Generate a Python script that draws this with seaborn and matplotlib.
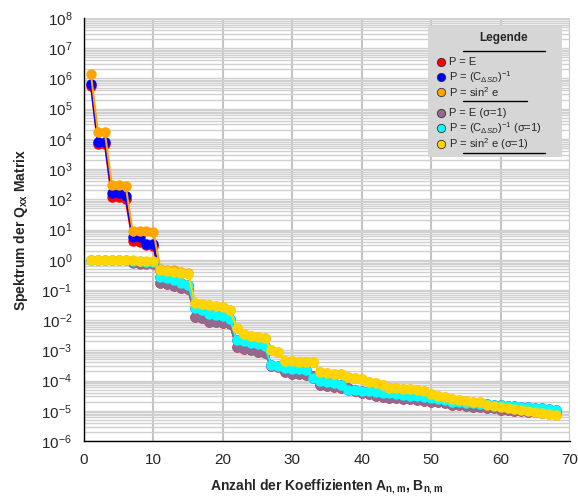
import numpy as np
import pandas as pd
import seaborn as sns
import matplotlib.pyplot as plt
from matplotlib.ticker import LogLocator, NullFormatter
from matplotlib.patches import Rectangle
from matplotlib.lines import Line2D

sns.set_style('white')
plt.rcParams['font.family'] = ['Liberation Sans', 'DejaVu Sans']
plt.rcParams['mathtext.fontset'] = 'custom'
plt.rcParams['mathtext.rm'] = 'Liberation Sans'
plt.rcParams['mathtext.it'] = 'Liberation Sans:italic'
plt.rcParams['mathtext.bf'] = 'Liberation Sans:bold'

x = np.arange(1, 69)

head_e = [5.8e5, 7e3, 6.8e3, 1.2e2, 1.15e2, 1.0e2, 4.2, 4.0, 3.0, 2.9,
          0.17, 0.16, 0.14, 0.12, 0.11]
head_c = [6.5e5, 8e3, 8e3, 1.6e2, 1.6e2, 1.25e2, 5.8, 5.5, 3.3, 3.2,
          0.26, 0.23, 0.2, 0.17, 0.15]
head_s = [1.4e6, 1.7e4, 1.7e4, 3e2, 2.9e2, 2.8e2, 9.0, 9.0, 8.8, 8.5,
          0.5, 0.47, 0.44, 0.4, 0.37]
head_e1 = [1.0, 1.0, 1.0, 1.0, 1.0, 1.0, 0.75, 0.72, 0.72, 0.7,
           0.17, 0.16, 0.14, 0.12, 0.11]
head_c1 = [1.0, 1.0, 1.0, 1.0, 1.0, 1.0, 0.9, 0.88, 0.86, 0.85,
           0.27, 0.24, 0.21, 0.17, 0.15]
head_s1 = [1.0, 1.0, 1.0, 1.0, 1.0, 1.0, 0.95, 0.93, 0.92, 0.9,
           0.45, 0.42, 0.4, 0.36, 0.34]

# Koeffizienten 16..68 (beide Varianten fallen zusammen)
tail_e = [0.013, 0.012, 0.009, 0.0085, 0.008, 0.0075,
          1.3e-3, 1.1e-3, 1.0e-3, 9e-4, 8e-4, 3e-4, 2.8e-4,
          1.9e-4, 1.7e-4, 1.6e-4, 1.5e-4, 1.4e-4,
          7e-5, 6.5e-5, 6e-5, 5.6e-5, 5.5e-5, 4.5e-5, 4e-5, 3.5e-5,
          3e-5, 2.8e-5, 2.7e-5, 2.6e-5, 2.5e-5, 2.4e-5, 2.2e-5, 2.1e-5,
          2e-5, 1.9e-5, 1.8e-5, 1.6e-5, 1.5e-5, 1.4e-5, 1.35e-5, 1.3e-5,
          1.25e-5, 1.2e-5, 1.1e-5, 1.05e-5, 1e-5, 9.5e-6, 9e-6, 8.8e-6,
          8.5e-6, 8.2e-6, 8e-6]
tail_c = [0.025, 0.022, 0.016, 0.015, 0.014, 0.011,
          2.2e-3, 2.0e-3, 1.8e-3, 1.6e-3, 1.4e-3, 3.2e-4, 3e-4,
          2.6e-4, 2.5e-4, 2.4e-4, 2.2e-4, 1.2e-4,
          1e-4, 9e-5, 8e-5, 7e-5, 5e-5, 4.8e-5, 4.6e-5, 4.5e-5,
          4.3e-5, 4e-5, 3.8e-5, 3.6e-5, 3.4e-5, 3.2e-5, 3e-5, 2.8e-5,
          2.6e-5, 2.4e-5, 2.2e-5, 2e-5, 1.9e-5, 1.8e-5, 1.75e-5, 1.7e-5,
          1.65e-5, 1.6e-5, 1.5e-5, 1.45e-5, 1.4e-5, 1.35e-5, 1.3e-5, 1.25e-5,
          1.2e-5, 1.15e-5, 1.1e-5]
tail_s = [0.036, 0.034, 0.032, 0.03, 0.028, 0.022,
          5.5e-3, 3.5e-3, 3.0e-3, 2.7e-3, 2.5e-3, 1e-3, 9e-4,
          4.5e-4, 4.4e-4, 4.2e-4, 4.1e-4, 4e-4,
          1.9e-4, 1.8e-4, 1.7e-4, 1.6e-4, 1.3e-4, 1.2e-4, 1.1e-4, 9e-5,
          8e-5, 7e-5, 5.8e-5, 5.6e-5, 5.4e-5, 5.2e-5, 5e-5, 4.5e-5,
          3.6e-5, 3.2e-5, 2.8e-5, 2.4e-5, 2.2e-5, 2.1e-5, 2e-5, 1.9e-5,
          1.6e-5, 1.45e-5, 1.35e-5, 1.25e-5, 1.15e-5, 1.05e-5, 9.5e-6, 9e-6,
          8.5e-6, 8e-6, 7.5e-6]

labels = [r'P = E',
          r'P = (C$_{\Delta SD}$)$^{-1}$',
          r'P = sin$^2$ e',
          r'P = E (σ=1)',
          r'P = (C$_{\Delta SD}$)$^{-1}$ (σ=1)',
          r'P = sin$^2$ e (σ=1)']
colors = ['#ff0000', '#0000ff', '#ffa500', '#93698f', '#00ffff', '#ffd400']

series = [head_e + tail_e, head_c + tail_c, head_s + tail_s,
          head_e1 + tail_e, head_c1 + tail_c, head_s1 + tail_s]
df = pd.concat([pd.DataFrame({'n': x, 'wert': s, 'serie': lab})
                for s, lab in zip(series, labels)])

fig = plt.figure(figsize=(5.78, 5.0), dpi=100)
ax = fig.add_axes([84 / 578, 59 / 500, 486 / 578, 423 / 500])

sns.lineplot(data=df, x='n', y='wert', hue='serie', hue_order=labels,
             palette=colors, marker='o', markersize=7.5, markeredgewidth=0,
             linewidth=1.5, legend=False, ax=ax, zorder=3)

ax.set_yscale('log')
ax.set_xlim(0, 70)
ax.set_ylim(1e-6, 1e8)
ax.set_xticks(range(0, 71, 10))
ax.yaxis.set_major_locator(LogLocator(base=10, numticks=100))
ax.yaxis.set_minor_locator(LogLocator(base=10, subs=np.arange(2, 10), numticks=100))
ax.yaxis.set_minor_formatter(NullFormatter())

ax.grid(True, axis='y', which='both', color='#d0d0d0', lw=1.0, zorder=0)
ax.grid(True, axis='x', which='major', color='#c4c4c4', lw=1.5, zorder=0)
ax.set_axisbelow(True)

for s in ['top', 'right']:
    ax.spines[s].set_visible(False)
for s in ['left', 'bottom']:
    ax.spines[s].set_color('black')
    ax.spines[s].set_linewidth(1.0)
ax.tick_params(axis='both', which='major', direction='out', length=5,
               width=1, color='black', labelsize=11)
ax.tick_params(axis='y', which='minor', length=0)

ax.set_xlabel(r'Anzahl der Koeffizienten A$_{\mathbf{n,m}}$, B$_{\mathbf{n,m}}$',
              fontsize=10, fontweight='bold', labelpad=8)
ax.set_ylabel(r'Spektrum der Q$_{\mathbf{xx}}$ Matrix',
              fontsize=10, fontweight='bold', labelpad=8)

# Legende von Hand
def fx(px):
    return (px - 84) / 486

def fy(py):
    return (441 - py) / 423

ax.add_patch(Rectangle((fx(428), fy(157)), fx(562) - fx(428), fy(26) - fy(157),
                       transform=ax.transAxes, facecolor='#d6d6d6',
                       edgecolor='none', zorder=5))
ax.text(fx(504), fy(38), 'Legende', transform=ax.transAxes, ha='center',
        va='center', fontsize=8.5, fontweight='bold', zorder=6)
for y0, x0, x1 in [(51, 463, 545), (101, 463, 527), (153, 463, 545)]:
    ax.add_line(Line2D([fx(x0), fx(x1)], [fy(y0), fy(y0)], color='black',
                       lw=1.0, transform=ax.transAxes, zorder=6))
rows = [61.7, 76.7, 91.7, 112.7, 128.3, 144.0]
for py, lab, c in zip(rows, labels, colors):
    ax.plot([fx(440.7)], [fy(py)], marker='o', markersize=6, color=c,
            markeredgecolor='#333333', markeredgewidth=0.6,
            transform=ax.transAxes, zorder=6, clip_on=False)
    ax.text(fx(449), fy(py), lab, transform=ax.transAxes, ha='left',
            va='center', fontsize=8, zorder=6)

fig.savefig('out.png', dpi=100)
